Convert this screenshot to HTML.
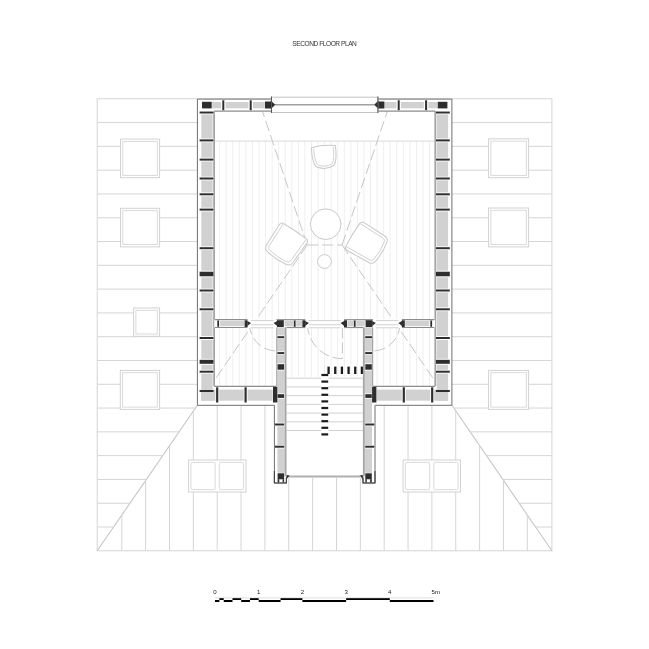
<!DOCTYPE html>
<html lang="en">
<head>
<meta charset="utf-8">
<title>Second Floor Plan</title>
<style>
html,body{margin:0;padding:0;background:#fff;}
body{width:649px;height:649px;overflow:hidden;font-family:"Liberation Sans",sans-serif;}
svg{display:block;will-change:transform;transform:translateZ(0);}
svg text{font-family:"Liberation Sans",sans-serif;}
</style>
</head>
<body>
<svg width="649" height="649" viewBox="0 0 649 649">
<rect x="0" y="0" width="649" height="649" fill="#ffffff"/>
<text x="324.6" y="46.4" text-anchor="middle" font-size="6.6" fill="#333" textLength="64.5" lengthAdjust="spacing">SECOND FLOOR PLAN</text>
<rect x="97.2" y="98.8" width="454.7" height="452.0" fill="none" stroke="#d5d5d5" stroke-width="1" />
<line x1="197.4" y1="405.3" x2="97.2" y2="550.8" stroke="#c6c6c6" stroke-width="1.1" />
<line x1="451.9" y1="405.3" x2="551.9" y2="550.8" stroke="#c6c6c6" stroke-width="1.1" />
<line x1="97.2" y1="122.59" x2="197.4" y2="122.59" stroke="#d5d5d5" stroke-width="1" />
<line x1="451.9" y1="122.59" x2="551.9" y2="122.59" stroke="#d5d5d5" stroke-width="1" />
<line x1="97.2" y1="146.38" x2="197.4" y2="146.38" stroke="#d5d5d5" stroke-width="1" />
<line x1="451.9" y1="146.38" x2="551.9" y2="146.38" stroke="#d5d5d5" stroke-width="1" />
<line x1="97.2" y1="170.17" x2="197.4" y2="170.17" stroke="#d5d5d5" stroke-width="1" />
<line x1="451.9" y1="170.17" x2="551.9" y2="170.17" stroke="#d5d5d5" stroke-width="1" />
<line x1="97.2" y1="193.96" x2="197.4" y2="193.96" stroke="#d5d5d5" stroke-width="1" />
<line x1="451.9" y1="193.96" x2="551.9" y2="193.96" stroke="#d5d5d5" stroke-width="1" />
<line x1="97.2" y1="217.75" x2="197.4" y2="217.75" stroke="#d5d5d5" stroke-width="1" />
<line x1="451.9" y1="217.75" x2="551.9" y2="217.75" stroke="#d5d5d5" stroke-width="1" />
<line x1="97.2" y1="241.54" x2="197.4" y2="241.54" stroke="#d5d5d5" stroke-width="1" />
<line x1="451.9" y1="241.54" x2="551.9" y2="241.54" stroke="#d5d5d5" stroke-width="1" />
<line x1="97.2" y1="265.33" x2="197.4" y2="265.33" stroke="#d5d5d5" stroke-width="1" />
<line x1="451.9" y1="265.33" x2="551.9" y2="265.33" stroke="#d5d5d5" stroke-width="1" />
<line x1="97.2" y1="289.12" x2="197.4" y2="289.12" stroke="#d5d5d5" stroke-width="1" />
<line x1="451.9" y1="289.12" x2="551.9" y2="289.12" stroke="#d5d5d5" stroke-width="1" />
<line x1="97.2" y1="312.91" x2="197.4" y2="312.91" stroke="#d5d5d5" stroke-width="1" />
<line x1="451.9" y1="312.91" x2="551.9" y2="312.91" stroke="#d5d5d5" stroke-width="1" />
<line x1="97.2" y1="336.69" x2="197.4" y2="336.69" stroke="#d5d5d5" stroke-width="1" />
<line x1="451.9" y1="336.69" x2="551.9" y2="336.69" stroke="#d5d5d5" stroke-width="1" />
<line x1="97.2" y1="360.48" x2="197.4" y2="360.48" stroke="#d5d5d5" stroke-width="1" />
<line x1="451.9" y1="360.48" x2="551.9" y2="360.48" stroke="#d5d5d5" stroke-width="1" />
<line x1="97.2" y1="384.27" x2="197.4" y2="384.27" stroke="#d5d5d5" stroke-width="1" />
<line x1="451.9" y1="384.27" x2="551.9" y2="384.27" stroke="#d5d5d5" stroke-width="1" />
<line x1="97.2" y1="408.06" x2="195.5" y2="408.06" stroke="#d5d5d5" stroke-width="1" />
<line x1="453.8" y1="408.06" x2="551.9" y2="408.06" stroke="#d5d5d5" stroke-width="1" />
<line x1="97.2" y1="431.85" x2="179.12" y2="431.85" stroke="#d5d5d5" stroke-width="1" />
<line x1="470.15" y1="431.85" x2="551.9" y2="431.85" stroke="#d5d5d5" stroke-width="1" />
<line x1="97.2" y1="455.64" x2="162.73" y2="455.64" stroke="#d5d5d5" stroke-width="1" />
<line x1="486.5" y1="455.64" x2="551.9" y2="455.64" stroke="#d5d5d5" stroke-width="1" />
<line x1="97.2" y1="479.43" x2="146.35" y2="479.43" stroke="#d5d5d5" stroke-width="1" />
<line x1="502.85" y1="479.43" x2="551.9" y2="479.43" stroke="#d5d5d5" stroke-width="1" />
<line x1="97.2" y1="503.22" x2="129.97" y2="503.22" stroke="#d5d5d5" stroke-width="1" />
<line x1="519.2" y1="503.22" x2="551.9" y2="503.22" stroke="#d5d5d5" stroke-width="1" />
<line x1="97.2" y1="527.01" x2="113.58" y2="527.01" stroke="#d5d5d5" stroke-width="1" />
<line x1="535.55" y1="527.01" x2="551.9" y2="527.01" stroke="#d5d5d5" stroke-width="1" />
<line x1="121.8" y1="515.08" x2="121.8" y2="550.8" stroke="#d5d5d5" stroke-width="1" />
<line x1="145.65" y1="480.45" x2="145.65" y2="550.8" stroke="#d5d5d5" stroke-width="1" />
<line x1="169.5" y1="445.81" x2="169.5" y2="550.8" stroke="#d5d5d5" stroke-width="1" />
<line x1="193.35" y1="411.18" x2="193.35" y2="550.8" stroke="#d5d5d5" stroke-width="1" />
<line x1="217.2" y1="405.3" x2="217.2" y2="550.8" stroke="#d5d5d5" stroke-width="1" />
<line x1="241.05" y1="405.3" x2="241.05" y2="550.8" stroke="#d5d5d5" stroke-width="1" />
<line x1="264.9" y1="405.3" x2="264.9" y2="550.8" stroke="#d5d5d5" stroke-width="1" />
<line x1="288.75" y1="478" x2="288.75" y2="550.8" stroke="#d5d5d5" stroke-width="1" />
<line x1="312.6" y1="478" x2="312.6" y2="550.8" stroke="#d5d5d5" stroke-width="1" />
<line x1="336.5" y1="478" x2="336.5" y2="550.8" stroke="#d5d5d5" stroke-width="1" />
<line x1="360.35" y1="478" x2="360.35" y2="550.8" stroke="#d5d5d5" stroke-width="1" />
<line x1="384.2" y1="405.3" x2="384.2" y2="550.8" stroke="#d5d5d5" stroke-width="1" />
<line x1="408.05" y1="405.3" x2="408.05" y2="550.8" stroke="#d5d5d5" stroke-width="1" />
<line x1="431.9" y1="405.3" x2="431.9" y2="550.8" stroke="#d5d5d5" stroke-width="1" />
<line x1="455.75" y1="410.9" x2="455.75" y2="550.8" stroke="#d5d5d5" stroke-width="1" />
<line x1="479.6" y1="445.6" x2="479.6" y2="550.8" stroke="#d5d5d5" stroke-width="1" />
<line x1="503.45" y1="480.31" x2="503.45" y2="550.8" stroke="#d5d5d5" stroke-width="1" />
<line x1="527.3" y1="515.01" x2="527.3" y2="550.8" stroke="#d5d5d5" stroke-width="1" />
<rect x="120.5" y="139.1" width="39.1" height="38.6" fill="#fff" stroke="#d2d2d2" stroke-width="1" />
<rect x="122.8" y="141.4" width="34.5" height="34.0" fill="#fff" stroke="#d6d6d6" stroke-width="0.9" />
<rect x="120.5" y="208.3" width="39.1" height="38.6" fill="#fff" stroke="#d2d2d2" stroke-width="1" />
<rect x="122.8" y="210.6" width="34.5" height="34.0" fill="#fff" stroke="#d6d6d6" stroke-width="0.9" />
<rect x="133.6" y="308" width="26" height="28.3" fill="#fff" stroke="#d2d2d2" stroke-width="1" />
<rect x="135.9" y="310.3" width="21.4" height="23.7" fill="#fff" stroke="#d6d6d6" stroke-width="0.9" />
<rect x="120.3" y="370.4" width="39.3" height="39" fill="#fff" stroke="#d2d2d2" stroke-width="1" />
<rect x="122.6" y="372.7" width="34.7" height="34.4" fill="#fff" stroke="#d6d6d6" stroke-width="0.9" />
<rect x="488.6" y="138.8" width="40" height="38.9" fill="#fff" stroke="#d2d2d2" stroke-width="1" />
<rect x="490.9" y="141.1" width="35.4" height="34.3" fill="#fff" stroke="#d6d6d6" stroke-width="0.9" />
<rect x="488.6" y="208" width="40" height="38.9" fill="#fff" stroke="#d2d2d2" stroke-width="1" />
<rect x="490.9" y="210.3" width="35.4" height="34.3" fill="#fff" stroke="#d6d6d6" stroke-width="0.9" />
<rect x="488.6" y="370.4" width="40" height="39" fill="#fff" stroke="#d2d2d2" stroke-width="1" />
<rect x="490.9" y="372.7" width="35.4" height="34.4" fill="#fff" stroke="#d6d6d6" stroke-width="0.9" />
<rect x="188.6" y="460" width="57.4" height="32" fill="#fff" stroke="#d2d2d2" stroke-width="1" />
<rect x="190.9" y="462.4" width="24.2" height="27.2" fill="#fff" stroke="#d6d6d6" stroke-width="0.9" rx="1.5"/>
<rect x="219.3" y="462.4" width="24.2" height="27.2" fill="#fff" stroke="#d6d6d6" stroke-width="0.9" rx="1.5"/>
<rect x="403.1" y="460" width="57.4" height="32" fill="#fff" stroke="#d2d2d2" stroke-width="1" />
<rect x="405.4" y="462.4" width="24.2" height="27.2" fill="#fff" stroke="#d6d6d6" stroke-width="0.9" rx="1.5"/>
<rect x="433.8" y="462.4" width="24.2" height="27.2" fill="#fff" stroke="#d6d6d6" stroke-width="0.9" rx="1.5"/>
<rect x="197.4" y="99.1" width="254.5" height="306.2" fill="#fff" stroke="none" stroke-width="1" />
<line x1="219.64" y1="141" x2="219.64" y2="386.5" stroke="#efefef" stroke-width="1" />
<line x1="226.2" y1="141" x2="226.2" y2="386.5" stroke="#efefef" stroke-width="1" />
<line x1="232.76" y1="141" x2="232.76" y2="386.5" stroke="#efefef" stroke-width="1" />
<line x1="239.32" y1="141" x2="239.32" y2="386.5" stroke="#efefef" stroke-width="1" />
<line x1="245.88" y1="141" x2="245.88" y2="386.5" stroke="#efefef" stroke-width="1" />
<line x1="252.44" y1="141" x2="252.44" y2="386.5" stroke="#efefef" stroke-width="1" />
<line x1="259.0" y1="141" x2="259.0" y2="386.5" stroke="#efefef" stroke-width="1" />
<line x1="265.56" y1="141" x2="265.56" y2="386.5" stroke="#efefef" stroke-width="1" />
<line x1="272.12" y1="141" x2="272.12" y2="386.5" stroke="#efefef" stroke-width="1" />
<line x1="278.68" y1="141" x2="278.68" y2="386.5" stroke="#efefef" stroke-width="1" />
<line x1="285.24" y1="141" x2="285.24" y2="386.5" stroke="#efefef" stroke-width="1" />
<line x1="291.8" y1="141" x2="291.8" y2="377" stroke="#efefef" stroke-width="1" />
<line x1="298.36" y1="141" x2="298.36" y2="377" stroke="#efefef" stroke-width="1" />
<line x1="304.92" y1="141" x2="304.92" y2="377" stroke="#efefef" stroke-width="1" />
<line x1="311.48" y1="141" x2="311.48" y2="377" stroke="#efefef" stroke-width="1" />
<line x1="318.04" y1="141" x2="318.04" y2="377" stroke="#efefef" stroke-width="1" />
<line x1="324.6" y1="141" x2="324.6" y2="377" stroke="#efefef" stroke-width="1" />
<line x1="331.16" y1="141" x2="331.16" y2="377" stroke="#efefef" stroke-width="1" />
<line x1="337.72" y1="141" x2="337.72" y2="377" stroke="#efefef" stroke-width="1" />
<line x1="344.28" y1="141" x2="344.28" y2="377" stroke="#efefef" stroke-width="1" />
<line x1="350.84" y1="141" x2="350.84" y2="377" stroke="#efefef" stroke-width="1" />
<line x1="357.4" y1="141" x2="357.4" y2="377" stroke="#efefef" stroke-width="1" />
<line x1="363.96" y1="141" x2="363.96" y2="386.5" stroke="#efefef" stroke-width="1" />
<line x1="370.52" y1="141" x2="370.52" y2="386.5" stroke="#efefef" stroke-width="1" />
<line x1="377.08" y1="141" x2="377.08" y2="386.5" stroke="#efefef" stroke-width="1" />
<line x1="383.64" y1="141" x2="383.64" y2="386.5" stroke="#efefef" stroke-width="1" />
<line x1="390.2" y1="141" x2="390.2" y2="386.5" stroke="#efefef" stroke-width="1" />
<line x1="396.76" y1="141" x2="396.76" y2="386.5" stroke="#efefef" stroke-width="1" />
<line x1="403.32" y1="141" x2="403.32" y2="386.5" stroke="#efefef" stroke-width="1" />
<line x1="409.88" y1="141" x2="409.88" y2="386.5" stroke="#efefef" stroke-width="1" />
<line x1="416.44" y1="141" x2="416.44" y2="386.5" stroke="#efefef" stroke-width="1" />
<line x1="423.0" y1="141" x2="423.0" y2="386.5" stroke="#efefef" stroke-width="1" />
<line x1="429.56" y1="141" x2="429.56" y2="386.5" stroke="#efefef" stroke-width="1" />
<line x1="215" y1="141.1" x2="434.4" y2="141.1" stroke="#d8d8d8" stroke-width="1" />
<line x1="286.4" y1="378.2" x2="363.0" y2="378.2" stroke="#d0d0d0" stroke-width="1" />
<line x1="286.4" y1="386.92" x2="363.0" y2="386.92" stroke="#d0d0d0" stroke-width="1" />
<line x1="286.4" y1="395.64" x2="363.0" y2="395.64" stroke="#d0d0d0" stroke-width="1" />
<line x1="286.4" y1="404.36" x2="363.0" y2="404.36" stroke="#d0d0d0" stroke-width="1" />
<line x1="286.4" y1="413.08" x2="363.0" y2="413.08" stroke="#d0d0d0" stroke-width="1" />
<line x1="286.4" y1="421.8" x2="363.0" y2="421.8" stroke="#d0d0d0" stroke-width="1" />
<line x1="286.4" y1="430.52" x2="363.0" y2="430.52" stroke="#d0d0d0" stroke-width="1" />
<rect x="321.2" y="374.5" width="7.2" height="61.5" fill="#fff" stroke="none" stroke-width="1" />
<rect x="327.45" y="366.6" width="2.3" height="7.4" fill="#1c1c1c" stroke="none" stroke-width="1" />
<rect x="334.11" y="366.6" width="2.3" height="7.4" fill="#1c1c1c" stroke="none" stroke-width="1" />
<rect x="340.77" y="366.6" width="2.3" height="7.4" fill="#1c1c1c" stroke="none" stroke-width="1" />
<rect x="347.43" y="366.6" width="2.3" height="7.4" fill="#1c1c1c" stroke="none" stroke-width="1" />
<rect x="354.09" y="366.6" width="2.3" height="7.4" fill="#1c1c1c" stroke="none" stroke-width="1" />
<rect x="360.75" y="366.6" width="2.3" height="7.4" fill="#1c1c1c" stroke="none" stroke-width="1" />
<rect x="321.4" y="373.9" width="6.8" height="2.2" fill="#1c1c1c" stroke="none" stroke-width="1" />
<rect x="321.4" y="380.5" width="6.8" height="2.2" fill="#1c1c1c" stroke="none" stroke-width="1" />
<rect x="321.4" y="387.1" width="6.8" height="2.2" fill="#1c1c1c" stroke="none" stroke-width="1" />
<rect x="321.4" y="393.7" width="6.8" height="2.2" fill="#1c1c1c" stroke="none" stroke-width="1" />
<rect x="321.4" y="400.3" width="6.8" height="2.2" fill="#1c1c1c" stroke="none" stroke-width="1" />
<rect x="321.4" y="406.9" width="6.8" height="2.2" fill="#1c1c1c" stroke="none" stroke-width="1" />
<rect x="321.4" y="413.5" width="6.8" height="2.2" fill="#1c1c1c" stroke="none" stroke-width="1" />
<rect x="321.4" y="420.1" width="6.8" height="2.2" fill="#1c1c1c" stroke="none" stroke-width="1" />
<rect x="321.4" y="426.7" width="6.8" height="2.2" fill="#1c1c1c" stroke="none" stroke-width="1" />
<rect x="321.4" y="433.3" width="6.8" height="2.2" fill="#1c1c1c" stroke="none" stroke-width="1" />
<line x1="307.2" y1="245" x2="262.5" y2="111.5" stroke="#c6c6c6" stroke-width="1" stroke-dasharray="11 4" fill="none"/>
<line x1="342.0" y1="245" x2="387.29999999999995" y2="111.5" stroke="#c6c6c6" stroke-width="1" stroke-dasharray="11 4" fill="none"/>
<line x1="307.2" y1="245" x2="342.0" y2="245" stroke="#c6c6c6" stroke-width="1" stroke-dasharray="11 4" fill="none"/>
<line x1="307.2" y1="245" x2="197.4" y2="405.3" stroke="#c6c6c6" stroke-width="1" stroke-dasharray="11 4" fill="none"/>
<line x1="342.0" y1="245" x2="451.5" y2="405.3" stroke="#c6c6c6" stroke-width="1" stroke-dasharray="11 4" fill="none"/>
<circle cx="325.7" cy="224.2" r="15.3" fill="#fff" stroke="#c9c9c9" stroke-width="1"/>
<circle cx="324.5" cy="261.5" r="6.9" fill="#fff" stroke="#c9c9c9" stroke-width="1"/>
<g transform="translate(285.6 245.0) rotate(34)"><path d="M-16.6 -13.350000000000001 Q-16.6 -16.55 -13.400000000000002 -16.650000000000002 Q0 -17.75 13.400000000000002 -16.650000000000002 Q16.6 -16.55 16.6 -13.350000000000001 L15.8 11.05 Q15.400000000000002 15.15 11.100000000000001 15.75 Q0 17.55 -11.100000000000001 15.75 Q-15.400000000000002 15.15 -15.8 11.05 Z" fill="#fff" stroke="#c9c9c9" stroke-width="1"/><path d="M-13.8 -16.05 L-13.100000000000001 10.55 Q-12.8 12.950000000000001 -9.8 13.350000000000001 Q0 14.950000000000001 9.8 13.350000000000001 Q12.8 12.950000000000001 13.100000000000001 10.55 L13.8 -16.05" fill="none" stroke="#c9c9c9" stroke-width="0.8"/></g>
<g transform="translate(367.4 243.6) rotate(-59)"><path d="M-16.25 -13.7 Q-16.25 -16.9 -13.05 -17.0 Q0 -18.099999999999998 13.05 -17.0 Q16.25 -16.9 16.25 -13.7 L15.45 11.399999999999999 Q15.05 15.499999999999998 10.75 16.099999999999998 Q0 17.9 -10.75 16.099999999999998 Q-15.05 15.499999999999998 -15.45 11.399999999999999 Z" fill="#fff" stroke="#c9c9c9" stroke-width="1"/><path d="M-13.45 -16.4 L-12.75 10.899999999999999 Q-12.45 13.299999999999999 -9.45 13.7 Q0 15.299999999999999 9.45 13.7 Q12.45 13.299999999999999 12.75 10.899999999999999 L13.45 -16.4" fill="none" stroke="#c9c9c9" stroke-width="0.8"/></g>
<g transform="translate(324.3 157.2) rotate(-5)"><path d="M-12 -10.6 Q0 -12.6 12 -10.6 Q12.8 3 9.2 8.6 Q0 13.8 -9.2 8.6 Q-12.8 3 -12 -10.6 Z" fill="#fff" stroke="#c9c9c9" stroke-width="1"/><path d="M-9.8 -9.6 Q-10.2 2 -7.4 7 Q0 10.8 7.4 7 Q10.2 2 9.8 -9.6" fill="none" stroke="#c9c9c9" stroke-width="0.8"/></g>
<path d="M307.4 323.7 A35 35 0 0 0 342.4 358.7" stroke-dasharray="11 4" fill="none" stroke="#c6c6c6" stroke-width="1"/>
<line x1="342.4" y1="327.5" x2="342.4" y2="358.7" stroke="#c6c6c6" stroke-width="1" stroke-dasharray="11 4" fill="none"/>
<path d="M249.4 323.7 A27.3 27.3 0 0 0 276.7 351" stroke-dasharray="11 4" fill="none" stroke="#c6c6c6" stroke-width="1"/>
<path d="M400.0 323.7 A27.3 27.3 0 0 1 372.7 351" stroke-dasharray="11 4" fill="none" stroke="#c6c6c6" stroke-width="1"/>
<rect x="197.4" y="99.1" width="16.9" height="306.2" fill="#fff" stroke="none" stroke-width="1" />
<rect x="201.3" y="102.1" width="11.3" height="298.7" fill="#d1d1d1" stroke="none" stroke-width="1" />
<line x1="214.1" y1="111.1" x2="214.1" y2="386.3" stroke="#a4a4a4" stroke-width="1.8" />
<rect x="199.6" y="110.6" width="13.9" height="3.8" fill="#fff" stroke="none" stroke-width="1" />
<rect x="199.6" y="111.5" width="13.9" height="2" fill="#2e2e2e" stroke="none" stroke-width="1" />
<rect x="199.6" y="138.5" width="13.9" height="3.8" fill="#fff" stroke="none" stroke-width="1" />
<rect x="199.6" y="139.4" width="13.9" height="2" fill="#2e2e2e" stroke="none" stroke-width="1" />
<rect x="199.6" y="157.7" width="13.9" height="3.8" fill="#fff" stroke="none" stroke-width="1" />
<rect x="199.6" y="158.6" width="13.9" height="2" fill="#2e2e2e" stroke="none" stroke-width="1" />
<rect x="199.6" y="176.6" width="13.9" height="3.8" fill="#fff" stroke="none" stroke-width="1" />
<rect x="199.6" y="177.5" width="13.9" height="2" fill="#2e2e2e" stroke="none" stroke-width="1" />
<rect x="199.6" y="192.4" width="13.9" height="3.8" fill="#fff" stroke="none" stroke-width="1" />
<rect x="199.6" y="193.3" width="13.9" height="2" fill="#2e2e2e" stroke="none" stroke-width="1" />
<rect x="199.6" y="207.7" width="13.9" height="3.8" fill="#fff" stroke="none" stroke-width="1" />
<rect x="199.6" y="208.6" width="13.9" height="2" fill="#2e2e2e" stroke="none" stroke-width="1" />
<rect x="199.6" y="246.3" width="13.9" height="3.8" fill="#fff" stroke="none" stroke-width="1" />
<rect x="199.6" y="247.2" width="13.9" height="2" fill="#2e2e2e" stroke="none" stroke-width="1" />
<rect x="199.6" y="288.6" width="13.9" height="3.8" fill="#fff" stroke="none" stroke-width="1" />
<rect x="199.6" y="289.5" width="13.9" height="2" fill="#2e2e2e" stroke="none" stroke-width="1" />
<rect x="199.6" y="307.4" width="13.9" height="3.8" fill="#fff" stroke="none" stroke-width="1" />
<rect x="199.6" y="308.3" width="13.9" height="2" fill="#2e2e2e" stroke="none" stroke-width="1" />
<rect x="199.6" y="336.1" width="13.9" height="3.8" fill="#fff" stroke="none" stroke-width="1" />
<rect x="199.6" y="337" width="13.9" height="2" fill="#2e2e2e" stroke="none" stroke-width="1" />
<rect x="199.6" y="369.8" width="13.9" height="3.8" fill="#fff" stroke="none" stroke-width="1" />
<rect x="199.6" y="370.7" width="13.9" height="2" fill="#2e2e2e" stroke="none" stroke-width="1" />
<rect x="199.6" y="389.1" width="13.9" height="3.8" fill="#fff" stroke="none" stroke-width="1" />
<rect x="199.6" y="390" width="13.9" height="2" fill="#2e2e2e" stroke="none" stroke-width="1" />
<rect x="199.6" y="270.7" width="13.9" height="6.6" fill="#fff" stroke="none" stroke-width="1" />
<rect x="199.6" y="271.7" width="13.9" height="4.6" fill="#2e2e2e" stroke="none" stroke-width="1" />
<rect x="199.6" y="358.8" width="13.9" height="6.0" fill="#fff" stroke="none" stroke-width="1" />
<rect x="199.6" y="359.8" width="13.9" height="4.0" fill="#2e2e2e" stroke="none" stroke-width="1" />
<rect x="435.1" y="99.1" width="16.9" height="306.2" fill="#fff" stroke="none" stroke-width="1" />
<rect x="436.8" y="102.1" width="11.3" height="298.7" fill="#d1d1d1" stroke="none" stroke-width="1" />
<line x1="435.3" y1="111.1" x2="435.3" y2="386.3" stroke="#a4a4a4" stroke-width="1.8" />
<rect x="435.9" y="110.6" width="13.9" height="3.8" fill="#fff" stroke="none" stroke-width="1" />
<rect x="435.9" y="111.5" width="13.9" height="2" fill="#2e2e2e" stroke="none" stroke-width="1" />
<rect x="435.9" y="138.5" width="13.9" height="3.8" fill="#fff" stroke="none" stroke-width="1" />
<rect x="435.9" y="139.4" width="13.9" height="2" fill="#2e2e2e" stroke="none" stroke-width="1" />
<rect x="435.9" y="157.7" width="13.9" height="3.8" fill="#fff" stroke="none" stroke-width="1" />
<rect x="435.9" y="158.6" width="13.9" height="2" fill="#2e2e2e" stroke="none" stroke-width="1" />
<rect x="435.9" y="176.6" width="13.9" height="3.8" fill="#fff" stroke="none" stroke-width="1" />
<rect x="435.9" y="177.5" width="13.9" height="2" fill="#2e2e2e" stroke="none" stroke-width="1" />
<rect x="435.9" y="192.4" width="13.9" height="3.8" fill="#fff" stroke="none" stroke-width="1" />
<rect x="435.9" y="193.3" width="13.9" height="2" fill="#2e2e2e" stroke="none" stroke-width="1" />
<rect x="435.9" y="207.7" width="13.9" height="3.8" fill="#fff" stroke="none" stroke-width="1" />
<rect x="435.9" y="208.6" width="13.9" height="2" fill="#2e2e2e" stroke="none" stroke-width="1" />
<rect x="435.9" y="246.3" width="13.9" height="3.8" fill="#fff" stroke="none" stroke-width="1" />
<rect x="435.9" y="247.2" width="13.9" height="2" fill="#2e2e2e" stroke="none" stroke-width="1" />
<rect x="435.9" y="288.6" width="13.9" height="3.8" fill="#fff" stroke="none" stroke-width="1" />
<rect x="435.9" y="289.5" width="13.9" height="2" fill="#2e2e2e" stroke="none" stroke-width="1" />
<rect x="435.9" y="307.4" width="13.9" height="3.8" fill="#fff" stroke="none" stroke-width="1" />
<rect x="435.9" y="308.3" width="13.9" height="2" fill="#2e2e2e" stroke="none" stroke-width="1" />
<rect x="435.9" y="336.1" width="13.9" height="3.8" fill="#fff" stroke="none" stroke-width="1" />
<rect x="435.9" y="337" width="13.9" height="2" fill="#2e2e2e" stroke="none" stroke-width="1" />
<rect x="435.9" y="369.8" width="13.9" height="3.8" fill="#fff" stroke="none" stroke-width="1" />
<rect x="435.9" y="370.7" width="13.9" height="2" fill="#2e2e2e" stroke="none" stroke-width="1" />
<rect x="435.9" y="389.1" width="13.9" height="3.8" fill="#fff" stroke="none" stroke-width="1" />
<rect x="435.9" y="390" width="13.9" height="2" fill="#2e2e2e" stroke="none" stroke-width="1" />
<rect x="435.9" y="270.7" width="13.9" height="6.6" fill="#fff" stroke="none" stroke-width="1" />
<rect x="435.9" y="271.7" width="13.9" height="4.6" fill="#2e2e2e" stroke="none" stroke-width="1" />
<rect x="435.9" y="358.8" width="13.9" height="6.0" fill="#fff" stroke="none" stroke-width="1" />
<rect x="435.9" y="359.8" width="13.9" height="4.0" fill="#2e2e2e" stroke="none" stroke-width="1" />
<rect x="197.4" y="99.1" width="74.1" height="12" fill="#fff" stroke="none" stroke-width="1" />
<rect x="212.2" y="102" width="8.8" height="6.3" fill="#d1d1d1" stroke="none" stroke-width="1" />
<rect x="225.6" y="102" width="22.9" height="6.3" fill="#d1d1d1" stroke="none" stroke-width="1" />
<rect x="253" y="102" width="11.8" height="6.3" fill="#d1d1d1" stroke="none" stroke-width="1" />
<rect x="222.3" y="100.3" width="2" height="10" fill="#2e2e2e" stroke="none" stroke-width="1" />
<rect x="249.7" y="100.3" width="2" height="10" fill="#2e2e2e" stroke="none" stroke-width="1" />
<rect x="202" y="101.8" width="9.7" height="6.6" fill="#2e2e2e" stroke="none" stroke-width="1" />
<rect x="265" y="101.5" width="6" height="7" fill="#2e2e2e" stroke="none" stroke-width="1" />
<line x1="214.3" y1="111.1" x2="271.5" y2="111.1" stroke="#8c8c8c" stroke-width="1.3" />
<rect x="377.9" y="99.1" width="74.1" height="12" fill="#fff" stroke="none" stroke-width="1" />
<rect x="428.4" y="102" width="8.8" height="6.3" fill="#d1d1d1" stroke="none" stroke-width="1" />
<rect x="400.9" y="102" width="22.9" height="6.3" fill="#d1d1d1" stroke="none" stroke-width="1" />
<rect x="384.6" y="102" width="11.8" height="6.3" fill="#d1d1d1" stroke="none" stroke-width="1" />
<rect x="425.1" y="100.3" width="2" height="10" fill="#2e2e2e" stroke="none" stroke-width="1" />
<rect x="397.7" y="100.3" width="2" height="10" fill="#2e2e2e" stroke="none" stroke-width="1" />
<rect x="437.7" y="101.8" width="9.7" height="6.6" fill="#2e2e2e" stroke="none" stroke-width="1" />
<rect x="378.4" y="101.5" width="6.0" height="7" fill="#2e2e2e" stroke="none" stroke-width="1" />
<line x1="435.1" y1="111.1" x2="377.9" y2="111.1" stroke="#8c8c8c" stroke-width="1.3" />
<rect x="197.4" y="386.3" width="79.3" height="19" fill="#fff" stroke="none" stroke-width="1" />
<rect x="201.3" y="386" width="11.3" height="14.7" fill="#d1d1d1" stroke="none" stroke-width="1" />
<rect x="201.3" y="389.6" width="14.0" height="11.1" fill="#d1d1d1" stroke="none" stroke-width="1" />
<rect x="219.2" y="389.6" width="24.5" height="11.1" fill="#d1d1d1" stroke="none" stroke-width="1" />
<rect x="247.6" y="389.6" width="25.0" height="11.1" fill="#d1d1d1" stroke="none" stroke-width="1" />
<rect x="216.1" y="387.3" width="2.2" height="15.2" fill="#2e2e2e" stroke="none" stroke-width="1" />
<rect x="244.5" y="387.3" width="2.2" height="15.2" fill="#2e2e2e" stroke="none" stroke-width="1" />
<line x1="214.3" y1="386.3" x2="276.7" y2="386.3" stroke="#8c8c8c" stroke-width="1.3" />
<rect x="199.6" y="390" width="13.9" height="2" fill="#2e2e2e" stroke="none" stroke-width="1" />
<rect x="372.7" y="386.3" width="79.3" height="19" fill="#fff" stroke="none" stroke-width="1" />
<rect x="436.8" y="386" width="11.3" height="14.7" fill="#d1d1d1" stroke="none" stroke-width="1" />
<rect x="434.1" y="389.6" width="14.0" height="11.1" fill="#d1d1d1" stroke="none" stroke-width="1" />
<rect x="405.7" y="389.6" width="24.5" height="11.1" fill="#d1d1d1" stroke="none" stroke-width="1" />
<rect x="376.8" y="389.6" width="25.0" height="11.1" fill="#d1d1d1" stroke="none" stroke-width="1" />
<rect x="431.1" y="387.3" width="2.2" height="15.2" fill="#2e2e2e" stroke="none" stroke-width="1" />
<rect x="402.7" y="387.3" width="2.2" height="15.2" fill="#2e2e2e" stroke="none" stroke-width="1" />
<line x1="435.1" y1="386.3" x2="372.7" y2="386.3" stroke="#8c8c8c" stroke-width="1.3" />
<rect x="435.9" y="390" width="13.9" height="2" fill="#2e2e2e" stroke="none" stroke-width="1" />
<path d="M271.5 99.1 H197.4 V405.3 H274.2 M377.9 99.1 H451.9 V405.3 H375.2" fill="none" stroke="#6e6e6e" stroke-width="1"/>
<rect x="271.5" y="97.2" width="106.4" height="15.3" fill="#fff" stroke="#c4c4c4" stroke-width="1" />
<line x1="275" y1="104.8" x2="374.4" y2="104.8" stroke="#a0a0a0" stroke-width="1.6" />
<path d="M270.8 100.5 L275.3 104.8 L270.8 109 Z" fill="#2e2e2e"/>
<line x1="271.5" y1="96.5" x2="271.5" y2="113" stroke="#555" stroke-width="1" />
<path d="M378.6 100.5 L374.1 104.8 L378.6 109 Z" fill="#2e2e2e"/>
<line x1="377.9" y1="96.5" x2="377.9" y2="113" stroke="#555" stroke-width="1" />
<rect x="247.5" y="319.3" width="154.4" height="8.8" fill="#fff" stroke="none" stroke-width="1" />
<rect x="214.3" y="319.7" width="33.2" height="7.8" fill="#fff" stroke="none" stroke-width="1" />
<line x1="215" y1="319.7" x2="247.5" y2="319.7" stroke="#8c8c8c" stroke-width="1.2" />
<line x1="215" y1="327.5" x2="247.5" y2="327.5" stroke="#8c8c8c" stroke-width="1.2" />
<rect x="220.2" y="321" width="24.0" height="5.2" fill="#d1d1d1" stroke="none" stroke-width="1" />
<rect x="217.3" y="320.5" width="1.8" height="6.3" fill="#2e2e2e" stroke="none" stroke-width="1" />
<rect x="244.6" y="320.3" width="3.0" height="6.7" fill="#2e2e2e" stroke="none" stroke-width="1" />
<path d="M247.4 321 L251 323 L247.4 326 Z" fill="#2e2e2e"/>
<rect x="276.5" y="319.7" width="28.8" height="7.8" fill="#fff" stroke="none" stroke-width="1" />
<line x1="276.5" y1="319.7" x2="305.3" y2="319.7" stroke="#8c8c8c" stroke-width="1.2" />
<line x1="286.4" y1="327.5" x2="305.3" y2="327.5" stroke="#8c8c8c" stroke-width="1.2" />
<rect x="284.6" y="321" width="8.6" height="5.2" fill="#d1d1d1" stroke="none" stroke-width="1" />
<rect x="296.2" y="321" width="5.8" height="5.2" fill="#d1d1d1" stroke="none" stroke-width="1" />
<rect x="293.8" y="320.5" width="1.8" height="6.3" fill="#2e2e2e" stroke="none" stroke-width="1" />
<rect x="277" y="320.2" width="6.8" height="6.8" fill="#2e2e2e" stroke="none" stroke-width="1" />
<rect x="302.4" y="320.3" width="3.0" height="6.7" fill="#2e2e2e" stroke="none" stroke-width="1" />
<path d="M305.2 321 L308.8 323 L305.2 326 Z" fill="#2e2e2e"/>
<path d="M277.2 321 L273.6 323 L277.2 326 Z" fill="#2e2e2e"/>
<line x1="251" y1="320.6" x2="273.6" y2="320.6" stroke="#cccccc" stroke-width="0.9" />
<line x1="251" y1="324.8" x2="273.6" y2="324.8" stroke="#cccccc" stroke-width="0.9" />
<line x1="251" y1="327.8" x2="273.6" y2="327.8" stroke="#cccccc" stroke-width="0.9" />
<rect x="401.9" y="319.7" width="33.2" height="7.8" fill="#fff" stroke="none" stroke-width="1" />
<line x1="434.4" y1="319.7" x2="401.9" y2="319.7" stroke="#8c8c8c" stroke-width="1.2" />
<line x1="434.4" y1="327.5" x2="401.9" y2="327.5" stroke="#8c8c8c" stroke-width="1.2" />
<rect x="405.2" y="321" width="24.0" height="5.2" fill="#d1d1d1" stroke="none" stroke-width="1" />
<rect x="430.3" y="320.5" width="1.8" height="6.3" fill="#2e2e2e" stroke="none" stroke-width="1" />
<rect x="401.8" y="320.3" width="3.0" height="6.7" fill="#2e2e2e" stroke="none" stroke-width="1" />
<path d="M402.0 321 L398.4 323 L402.0 326 Z" fill="#2e2e2e"/>
<rect x="344.1" y="319.7" width="28.8" height="7.8" fill="#fff" stroke="none" stroke-width="1" />
<line x1="372.9" y1="319.7" x2="344.1" y2="319.7" stroke="#8c8c8c" stroke-width="1.2" />
<line x1="363.0" y1="327.5" x2="344.1" y2="327.5" stroke="#8c8c8c" stroke-width="1.2" />
<rect x="356.2" y="321" width="8.6" height="5.2" fill="#d1d1d1" stroke="none" stroke-width="1" />
<rect x="347.4" y="321" width="5.8" height="5.2" fill="#d1d1d1" stroke="none" stroke-width="1" />
<rect x="353.8" y="320.5" width="1.8" height="6.3" fill="#2e2e2e" stroke="none" stroke-width="1" />
<rect x="365.6" y="320.2" width="6.8" height="6.8" fill="#2e2e2e" stroke="none" stroke-width="1" />
<rect x="344.0" y="320.3" width="3.0" height="6.7" fill="#2e2e2e" stroke="none" stroke-width="1" />
<path d="M344.2 321 L340.6 323 L344.2 326 Z" fill="#2e2e2e"/>
<path d="M372.2 321 L375.8 323 L372.2 326 Z" fill="#2e2e2e"/>
<line x1="398.4" y1="320.6" x2="375.8" y2="320.6" stroke="#cccccc" stroke-width="0.9" />
<line x1="398.4" y1="324.8" x2="375.8" y2="324.8" stroke="#cccccc" stroke-width="0.9" />
<line x1="398.4" y1="327.8" x2="375.8" y2="327.8" stroke="#cccccc" stroke-width="0.9" />
<line x1="308.8" y1="320.6" x2="340.6" y2="320.6" stroke="#cccccc" stroke-width="0.9" />
<line x1="308.8" y1="324.8" x2="340.6" y2="324.8" stroke="#cccccc" stroke-width="0.9" />
<line x1="308.8" y1="327.8" x2="340.6" y2="327.8" stroke="#cccccc" stroke-width="0.9" />
<rect x="274.4" y="405.3" width="12.0" height="77.7" fill="#fff" stroke="none" stroke-width="1" />
<rect x="276.3" y="327.5" width="10.1" height="78" fill="#fff" stroke="none" stroke-width="1" />
<rect x="277.4" y="327.3" width="7.2" height="145.5" fill="#d1d1d1" stroke="none" stroke-width="1" />
<rect x="284.6" y="327.3" width="1.9" height="149" fill="#a6a6a6" stroke="none" stroke-width="1" />
<rect x="276.2" y="327.3" width="1.2" height="59" fill="#a6a6a6" stroke="none" stroke-width="1" />
<path d="M274.4 405.3 V483 H286.4 V476.5" fill="none" stroke="#6e6e6e" stroke-width="1"/>
<rect x="277.4" y="335.4" width="7.0" height="3.6" fill="#fff" stroke="none" stroke-width="1" />
<rect x="277.4" y="336.2" width="6.8" height="2" fill="#2e2e2e" stroke="none" stroke-width="1" />
<rect x="277.4" y="351.3" width="7.0" height="3.6" fill="#fff" stroke="none" stroke-width="1" />
<rect x="277.4" y="352.1" width="6.8" height="2" fill="#2e2e2e" stroke="none" stroke-width="1" />
<rect x="275" y="422.7" width="9.4" height="3.6" fill="#fff" stroke="none" stroke-width="1" />
<rect x="275" y="423.5" width="9.2" height="2" fill="#2e2e2e" stroke="none" stroke-width="1" />
<rect x="275" y="444.9" width="9.4" height="3.6" fill="#fff" stroke="none" stroke-width="1" />
<rect x="275" y="445.7" width="9.2" height="2" fill="#2e2e2e" stroke="none" stroke-width="1" />
<rect x="277.6" y="363.3" width="6.8" height="7.3" fill="#fff" stroke="none" stroke-width="1" />
<rect x="277.6" y="364.2" width="6.5" height="5.5" fill="#2e2e2e" stroke="none" stroke-width="1" />
<rect x="277.6" y="393.4" width="6.8" height="5.3" fill="#fff" stroke="none" stroke-width="1" />
<rect x="277.6" y="394.2" width="6.5" height="3.7" fill="#2e2e2e" stroke="none" stroke-width="1" />
<rect x="273" y="386.8" width="4.3" height="15.7" fill="#2e2e2e" stroke="none" stroke-width="1" />
<rect x="277.6" y="473.3" width="6.5" height="6" fill="#2e2e2e" stroke="none" stroke-width="1" />
<rect x="277.6" y="479.2" width="1.7" height="3.3" fill="#2e2e2e" stroke="none" stroke-width="1" />
<rect x="282.6" y="479.2" width="1.5" height="3.3" fill="#2e2e2e" stroke="none" stroke-width="1" />
<path d="M274.4 471 V483 H286.4 V478" fill="none" stroke="#444" stroke-width="1.2"/>
<path d="M286.6 475 L290 475.6 L286.6 479 Z" fill="#2e2e2e"/>
<rect x="363.0" y="405.3" width="12.0" height="77.7" fill="#fff" stroke="none" stroke-width="1" />
<rect x="363.0" y="327.5" width="10.1" height="78" fill="#fff" stroke="none" stroke-width="1" />
<rect x="364.8" y="327.3" width="7.2" height="145.5" fill="#d1d1d1" stroke="none" stroke-width="1" />
<rect x="362.9" y="327.3" width="1.9" height="149" fill="#a6a6a6" stroke="none" stroke-width="1" />
<rect x="372.0" y="327.3" width="1.2" height="59" fill="#a6a6a6" stroke="none" stroke-width="1" />
<path d="M375.0 405.3 V483 H363.0 V476.5" fill="none" stroke="#6e6e6e" stroke-width="1"/>
<rect x="365.0" y="335.4" width="7.0" height="3.6" fill="#fff" stroke="none" stroke-width="1" />
<rect x="365.2" y="336.2" width="6.8" height="2" fill="#2e2e2e" stroke="none" stroke-width="1" />
<rect x="365.0" y="351.3" width="7.0" height="3.6" fill="#fff" stroke="none" stroke-width="1" />
<rect x="365.2" y="352.1" width="6.8" height="2" fill="#2e2e2e" stroke="none" stroke-width="1" />
<rect x="365.0" y="422.7" width="9.4" height="3.6" fill="#fff" stroke="none" stroke-width="1" />
<rect x="365.2" y="423.5" width="9.2" height="2" fill="#2e2e2e" stroke="none" stroke-width="1" />
<rect x="365.0" y="444.9" width="9.4" height="3.6" fill="#fff" stroke="none" stroke-width="1" />
<rect x="365.2" y="445.7" width="9.2" height="2" fill="#2e2e2e" stroke="none" stroke-width="1" />
<rect x="365.0" y="363.3" width="6.8" height="7.3" fill="#fff" stroke="none" stroke-width="1" />
<rect x="365.3" y="364.2" width="6.5" height="5.5" fill="#2e2e2e" stroke="none" stroke-width="1" />
<rect x="365.0" y="393.4" width="6.8" height="5.3" fill="#fff" stroke="none" stroke-width="1" />
<rect x="365.3" y="394.2" width="6.5" height="3.7" fill="#2e2e2e" stroke="none" stroke-width="1" />
<rect x="372.1" y="386.8" width="4.3" height="15.7" fill="#2e2e2e" stroke="none" stroke-width="1" />
<rect x="365.3" y="473.3" width="6.5" height="6" fill="#2e2e2e" stroke="none" stroke-width="1" />
<rect x="370.1" y="479.2" width="1.7" height="3.3" fill="#2e2e2e" stroke="none" stroke-width="1" />
<rect x="365.3" y="479.2" width="1.5" height="3.3" fill="#2e2e2e" stroke="none" stroke-width="1" />
<path d="M375.0 471 V483 H363.0 V478" fill="none" stroke="#444" stroke-width="1.2"/>
<path d="M362.8 475 L359.4 475.6 L362.8 479 Z" fill="#2e2e2e"/>
<line x1="289" y1="476.5" x2="360.4" y2="476.5" stroke="#b0b0b0" stroke-width="2" />
<rect x="215.0" y="600" width="4.37" height="2" fill="#000" stroke="none" stroke-width="1" />
<rect x="219.37" y="598" width="4.37" height="2" fill="#000" stroke="none" stroke-width="1" />
<rect x="223.74" y="600" width="8.74" height="2" fill="#000" stroke="none" stroke-width="1" />
<rect x="232.48" y="598" width="8.74" height="2" fill="#000" stroke="none" stroke-width="1" />
<rect x="241.22" y="600" width="8.74" height="2" fill="#000" stroke="none" stroke-width="1" />
<rect x="249.96" y="598" width="8.74" height="2" fill="#000" stroke="none" stroke-width="1" />
<rect x="258.7" y="600" width="21.85" height="2" fill="#000" stroke="none" stroke-width="1" />
<rect x="280.55" y="598" width="21.85" height="2" fill="#000" stroke="none" stroke-width="1" />
<rect x="302.4" y="600" width="43.7" height="2" fill="#000" stroke="none" stroke-width="1" />
<rect x="346.1" y="598" width="43.7" height="2" fill="#000" stroke="none" stroke-width="1" />
<rect x="389.8" y="600" width="43.7" height="2" fill="#000" stroke="none" stroke-width="1" />
<line x1="215.0" y1="597.9" x2="433.5" y2="597.9" stroke="#c8c8c8" stroke-width="0.6" />
<text x="215.0" y="594.3" text-anchor="middle" font-size="6.1" fill="#222">0</text>
<text x="258.7" y="594.3" text-anchor="middle" font-size="6.1" fill="#222">1</text>
<text x="302.4" y="594.3" text-anchor="middle" font-size="6.1" fill="#222">2</text>
<text x="346.1" y="594.3" text-anchor="middle" font-size="6.1" fill="#222">3</text>
<text x="389.8" y="594.3" text-anchor="middle" font-size="6.1" fill="#222">4</text>
<text x="431.5" y="594.3" text-anchor="start" font-size="6.1" fill="#222">5m</text>
</svg>
</body>
</html>
